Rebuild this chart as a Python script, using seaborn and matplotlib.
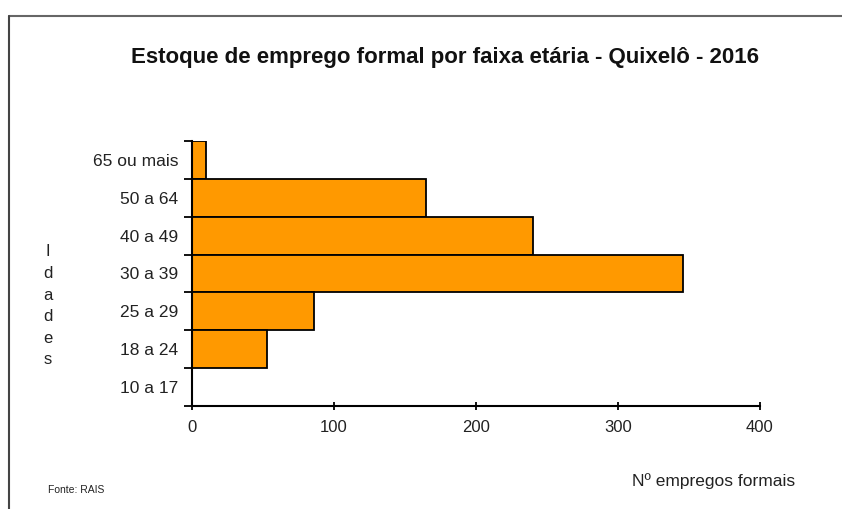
import numpy as np
import pandas as pd
import seaborn as sns
import matplotlib.pyplot as plt
from matplotlib.lines import Line2D
from matplotlib.ticker import FixedLocator

faixas = ["65 ou mais", "50 a 64", "40 a 49", "30 a 39", "25 a 29", "18 a 24", "10 a 17"]
empregos = [10, 165, 240, 346, 86, 53, 0]
x_ticks = [0, 100, 200, 300, 400]

titulo = "Estoque de emprego formal por faixa etária - Quixelô - 2016"
eixo_y = "Idades"
eixo_x = "Nº empregos formais"
fonte = "Fonte: RAIS"


def main():
    sns.set_theme(style="white")
    plt.rcParams['font.family'] = ['Liberation Sans', 'DejaVu Sans']
    text_color = "#222222"

    data = pd.DataFrame({"faixa": faixas, "empregos": empregos})

    fig = plt.figure(figsize=(8.42, 5.09), dpi=100)
    ax = fig.add_axes([0.228, 0.2024, 0.6746, 0.5206])

    sns.barplot(data=data, x="empregos", y="faixa", order=faixas, orient="h",
                width=1.0, color="#FF9900", saturation=1, edgecolor="black",
                linewidth=1.3, ax=ax)

    ax.set_xlim(0, 400)
    ax.set_ylim(len(faixas) - 0.5, -0.5)
    ax.set_xticks(x_ticks)
    ax.set_xticklabels([str(t) for t in x_ticks])
    ax.yaxis.set_minor_locator(FixedLocator(np.arange(-0.5, len(faixas), 1.0)))
    ax.tick_params(axis="y", which="major", length=0, pad=10, labelsize=12.5,
                   labelcolor=text_color)
    ax.tick_params(axis="y", which="minor", length=6, width=1.3, color="black", left=True)
    ax.tick_params(axis="x", which="major", length=6, width=1.3, direction="inout",
                   color="black", bottom=True, pad=7, labelsize=12, labelcolor=text_color)
    ax.set_xlabel("")
    ax.set_ylabel("")

    for side in ["top", "right"]:
        ax.spines[side].set_visible(False)
    for side in ["left", "bottom"]:
        ax.spines[side].set_color("black")
        ax.spines[side].set_linewidth(1.5)

    fig.text(0.529, 0.888, titulo, ha="center", va="center", fontsize=16,
             fontweight="bold", color="#111111")
    fig.text(0.057, 0.399, "\n".join(eixo_y), ha="center", va="center", fontsize=12,
             linespacing=1.55, color=text_color)
    fig.text(0.847, 0.055, eixo_x, ha="center", va="center", fontsize=12.5,
             color=text_color)
    fig.text(0.091, 0.037, fonte, ha="center", va="center", fontsize=7.5,
             color=text_color)

    # moldura cinza (topo e esquerda)
    fig.add_artist(Line2D([9 / 842, 1], [1 - 16 / 509] * 2, color="#666666", lw=1.5))
    fig.add_artist(Line2D([9 / 842] * 2, [0, 1 - 16 / 509], color="#444444", lw=1.5))

    fig.savefig("out.png", dpi=100, facecolor="white")


if __name__ == '__main__':
    main()
